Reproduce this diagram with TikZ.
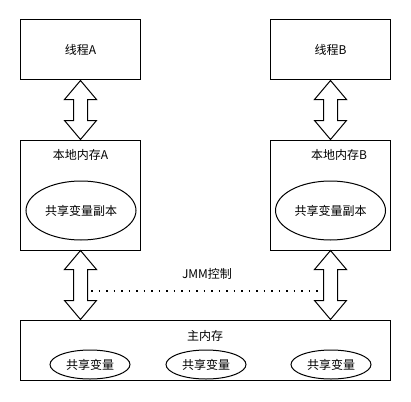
\documentclass[tikz,border=0pt]{standalone}
\usepackage{fontspec}
\setmainfont{Noto Sans CJK SC}
\usetikzlibrary{calc,shapes.geometric}
\newcommand\dblarr[2]{%
  \draw[dblarrow] let \p1=#1, \p2=#2 in
    (\x1,\y1) -- (\x1+16pt,\y1-19pt) -- (\x1+7pt,\y1-19pt) -- (\x1+7pt,\y2+19pt)
    -- (\x1+16pt,\y2+19pt) -- (\x1,\y2) -- (\x1-16pt,\y2+19pt) -- (\x1-7pt,\y2+19pt)
    -- (\x1-7pt,\y1-19pt) -- (\x1-16pt,\y1-19pt) -- cycle;}
\begin{document}
\begin{tikzpicture}[x=1pt,y=-1pt,
  every node/.style={font=\fontsize{12}{14}\selectfont,inner sep=0pt},
  box/.style={draw,line width=1pt,minimum width=120pt,minimum height=60pt},
  ell/.style={draw,ellipse,line width=1pt},
  dblarrow/.style={draw,line width=1pt,fill=white,line join=miter},
  dots/.style={line width=1.6pt,dash pattern=on 1.6pt off 5.9pt}
]
\useasboundingbox (0,0) rectangle (411,401);
% threads
\node[box] (ta) at (80.5,50) {线程A};
\node[box] (tb) at (330.5,50) {线程B};
% local memories
\node[box,minimum height=110pt] (la) at (80.5,195) {};
\node[box,minimum height=110pt] (lb) at (330.5,195) {};
\node (lat) at (80.5,155) {本地内存A};
\node (lbt) at (339,155) {本地内存B};
\node[ell,minimum width=110pt,minimum height=59pt] (ea) at (81,210.5) {共享变量副本};
\node[ell,minimum width=110pt,minimum height=59pt] (eb) at (330.5,210.5) {共享变量副本};
% main memory
\node[box,minimum width=370pt] (mm) at (205.5,350) {};
\node (mt) at (205,336) {主内存};
\node[ell,minimum width=80pt,minimum height=29pt] (e1) at (90,364.5) {共享变量};
\node[ell,minimum width=80pt,minimum height=29pt] (e2) at (206,364.5) {共享变量};
\node[ell,minimum width=80pt,minimum height=29pt] (e3) at (331,364.5) {共享变量};
% arrows
\dblarr{(ta.south)}{(la.north)}
\dblarr{(tb.south)}{(lb.north)}
\dblarr{(la.south)}{(la.south |- mm.north)}
\dblarr{(lb.south)}{(lb.south |- mm.north)}
% JMM control
\coordinate (dl) at (91,291);
\coordinate (dr) at (318,291);
\draw[dots] (dl) -- (dr);
\node (jmm) at (207,274) {JMM控制};
\end{tikzpicture}
\end{document}
